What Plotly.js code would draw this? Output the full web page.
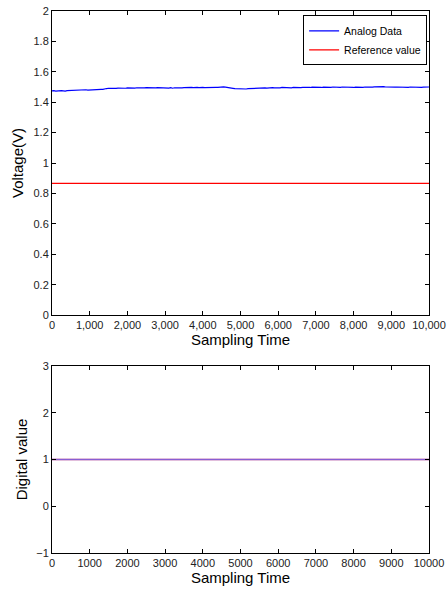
<!DOCTYPE html>
<html><head><meta charset="utf-8">
<script src="https://cdn.plot.ly/plotly-3.0.1.min.js"></script>
<style>html,body{margin:0;padding:0;background:#fff}#c{width:448px;height:592px}</style>
</head><body><div id="c"></div>
<script>
// sampling step for the analog trace
var analogTime = [];
for (var i = 0; i <= 200; i++) analogTime.push(i * 50);
var analogVoltage = [
1.474,1.476,1.473,1.475,1.474,1.476,1.475,1.473,1.476,1.477,
1.478,1.480,1.479,1.481,1.480,1.482,1.483,1.481,1.482,1.480,
1.481,1.483,1.482,1.484,1.483,1.484,1.485,1.484,1.485,1.490,
1.492,1.491,1.493,1.492,1.491,1.493,1.492,1.494,1.493,1.492,
1.494,1.493,1.495,1.494,1.493,1.495,1.494,1.493,1.495,1.494,
1.496,1.495,1.494,1.496,1.495,1.494,1.496,1.495,1.497,1.496,
1.494,1.495,1.493,1.496,1.492,1.495,1.494,1.496,1.495,1.494,
1.496,1.497,1.496,1.495,1.497,1.496,1.498,1.497,1.496,1.498,
1.497,1.496,1.497,1.495,1.496,1.497,1.496,1.498,1.497,1.499,
1.500,1.501,1.499,1.498,1.497,1.494,1.491,1.489,1.488,1.487,
1.488,1.487,1.488,1.487,1.489,1.490,1.491,1.492,1.493,1.492,
1.494,1.493,1.495,1.494,1.493,1.495,1.494,1.496,1.495,1.494,
1.496,1.495,1.497,1.496,1.495,1.497,1.496,1.495,1.497,1.496,
1.498,1.497,1.496,1.498,1.497,1.496,1.498,1.497,1.499,1.498,
1.497,1.499,1.498,1.497,1.499,1.498,1.500,1.499,1.498,1.500,
1.499,1.497,1.499,1.498,1.500,1.499,1.498,1.497,1.499,1.498,
1.497,1.499,1.498,1.500,1.499,1.498,1.500,1.499,1.501,1.500,
1.499,1.501,1.502,1.503,1.502,1.501,1.502,1.500,1.499,1.498,
1.499,1.498,1.499,1.500,1.499,1.498,1.499,1.500,1.499,1.498,
1.500,1.499,1.498,1.499,1.500,1.499,1.498,1.499,1.500,1.499,
1.500
];
var refTime = [0, 10000];
var refVoltage = [0.866, 0.866];
var digitalTime = [0, 10000];
var digitalValue = [1, 1];
var refDigital = [1, 1];

var topXTicks = [0,1000,2000,3000,4000,5000,6000,7000,8000,9000,10000];
var topYTicks = [0,0.2,0.4,0.6,0.8,1,1.2,1.4,1.6,1.8,2];
var botYTicks = [-1,0,1,2,3];

var traces = [
  {x: analogTime, y: analogVoltage, type: 'scatter', mode: 'lines', name: 'Analog Data',
   line: {color: '#0000ff', width: 1.2}, xaxis: 'x', yaxis: 'y'},
  {x: refTime, y: refVoltage, type: 'scatter', mode: 'lines', name: 'Reference value',
   line: {color: '#ff0000', width: 1.4}, xaxis: 'x', yaxis: 'y'},
  {x: digitalTime, y: refDigital, type: 'scatter', mode: 'lines', showlegend: false,
   line: {color: '#ff6060', width: 1.5}, xaxis: 'x2', yaxis: 'y2'},
  {x: digitalTime, y: digitalValue, type: 'scatter', mode: 'lines', showlegend: false,
   line: {color: '#6a5cf0', width: 1.5}, opacity: 0.8, xaxis: 'x2', yaxis: 'y2'}
];

var axCommon = {showline: true, linecolor: '#000', linewidth: 1, mirror: 'ticks', ticks: 'inside',
  ticklen: 4, tickcolor: '#000', showgrid: false, zeroline: false,
  tickfont: {family: 'Liberation Sans, Arial, sans-serif', size: 11, color: '#222'}};
function ax(extra){ var o = {}; for (var k in axCommon) o[k] = axCommon[k]; for (var k in extra) o[k] = extra[k]; return o; }
var titleFont = {family: 'Liberation Sans, Arial, sans-serif', size: 15, color: '#000'};

var layout = {
  width: 448, height: 592,
  margin: {l: 52, r: 19, t: 11, b: 39},
  paper_bgcolor: '#fff', plot_bgcolor: '#fff',
  showlegend: true,
  legend: {x: 0.995, xanchor: 'right', y: 0.992, yanchor: 'top', bgcolor: '#fff',
    bordercolor: '#000', borderwidth: 1, tracegroupgap: 0, itemwidth: 30,
    font: {family: 'Liberation Sans, Arial, sans-serif', size: 10.5, color: '#000'}},
  xaxis: ax({domain: [0, 1], range: [0, 10000], tickvals: topXTicks, tickformat: ',d', anchor: 'y',
    title: {text: 'Sampling Time', font: titleFont, standoff: 2}}),
  yaxis: ax({domain: [0.439, 1], range: [0, 2], tickvals: topYTicks, anchor: 'x',
    title: {text: 'Voltage(V)', font: titleFont, standoff: 6}}),
  xaxis2: ax({domain: [0, 1], range: [0, 10000], tickvals: topXTicks, tickformat: 'd', anchor: 'y2',
    title: {text: 'Sampling Time', font: titleFont, standoff: 2}}),
  yaxis2: ax({domain: [0, 0.345], range: [-1, 3], tickvals: botYTicks, anchor: 'x2',
    title: {text: 'Digital value', font: titleFont, standoff: 4}})
};
Plotly.newPlot('c', traces, layout, {staticPlot: true, displayModeBar: false});
</script></body></html>
